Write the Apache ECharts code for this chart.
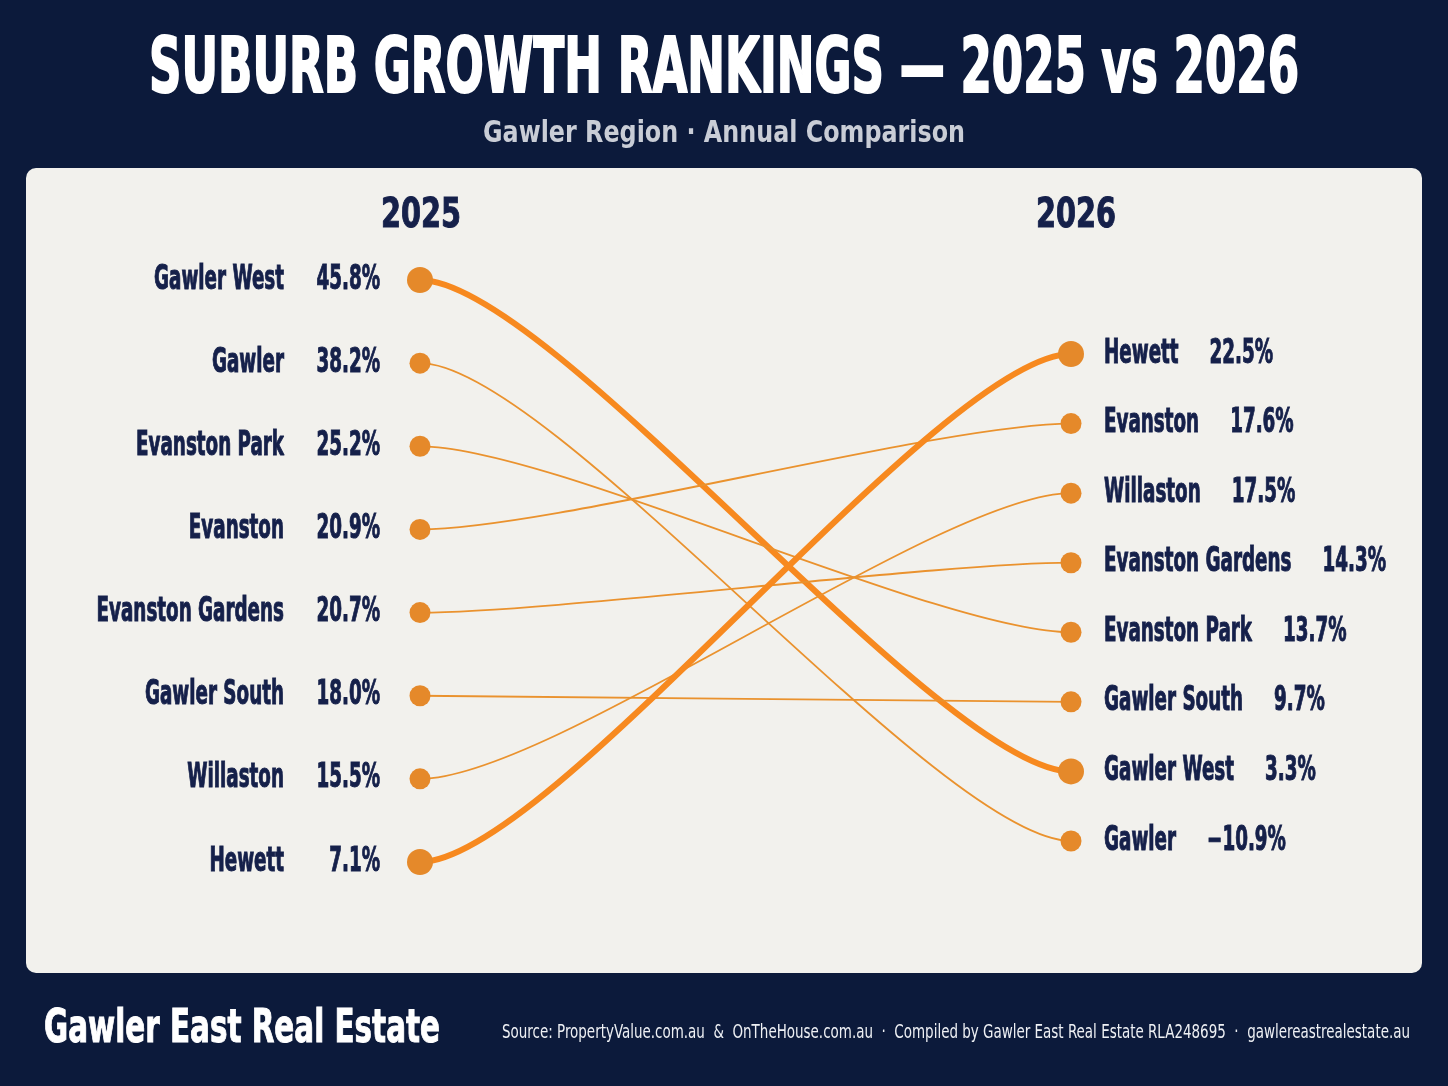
<!DOCTYPE html>
<html>
<head>
<meta charset="utf-8">
<script src="https://cdn.jsdelivr.net/npm/echarts@6/dist/echarts.min.js"></script>
<style>
  html, body { margin: 0; padding: 0; background: #0c1a3b; }
  #chart { width: 1448px; height: 1086px; }
</style>
</head>
<body>
<div id="chart"></div>
<script>
// data
const years = ['2025', '2026'];
const suburbs = ['Gawler West', 'Gawler', 'Evanston Park', 'Evanston', 'Evanston Gardens', 'Gawler South', 'Willaston', 'Hewett'];
const growth2025 = [45.8, 38.2, 25.2, 20.9, 20.7, 18.0, 15.5, 7.1];
const growth2026 = [3.3, -10.9, 13.7, 17.6, 14.3, 9.7, 17.5, 22.5];
const highlighted = ['Gawler West', 'Hewett'];

const FONT = "'DejaVu Sans Condensed', 'DejaVu Sans', sans-serif";
const NAVY = '#15204a';
const DOT = '#e5892a';

// the reference type is very narrow, so squeeze the text horizontally
const measureCtx = document.createElement('canvas').getContext('2d');
function squeeze (text, font, targetWidth) {
	measureCtx.font = font;
	return targetWidth / measureCtx.measureText(text).width;
}
const LABEL_SIZE = 33;
const LS = squeeze('Gawler West', 'bold ' + LABEL_SIZE + 'px ' + FONT, 130);
const YS = squeeze('2025', 'bold 40px ' + FONT, 80);

// rank 1 = highest growth in that year
function ranks (values) {
	const order = values.map((v, i) => i).sort((a, b) => values[b] - values[a]);
	const r = [];
	order.forEach((idx, pos) => { r[idx] = pos + 1; });
	return r;
}
const rank2025 = ranks(growth2025);
const rank2026 = ranks(growth2026);

// the two columns use slightly different vertical spreads
const leftSpan = [0.964, 8.096];
const rightSpan = [-0.107, 8.417];
function rightToLeft (r) {
	return leftSpan[0] + (r - rightSpan[0]) / (rightSpan[1] - rightSpan[0]) * (leftSpan[1] - leftSpan[0]);
}

function fmt (v) {
	return (v < 0 ? '\u2212' + Math.abs(v).toFixed(1) : v.toFixed(1)) + '%';
}
function dotSize (name) {
	return highlighted.indexOf(name) >= 0 ? 26 : 21;
}

const labelToken = { fill: NAVY, stroke: NAVY, lineWidth: 1, fontSize: LABEL_SIZE, fontWeight: 'bold', fontFamily: FONT };

function headText (text, y, size, weight, color, target, left, heavy) {
	const font = weight + ' ' + size + 'px ' + FONT;
	return {
		type: 'text',
		x: left == null ? 724 : left,
		y: y,
		scaleX: squeeze(text, font, target),
		style: {
			text: text,
			font: font,
			fill: color,
			stroke: heavy ? color : null,
			lineWidth: heavy || 0,
			align: left == null ? 'center' : 'left',
			verticalAlign: 'middle'
		}
	};
}
const titleText = 'SUBURB GROWTH RANKINGS \u2014 2025 vs 2026';
const subText = 'Gawler Region \u00b7 Annual Comparison';
const brandText = 'Gawler East Real Estate';
const sourceText = 'Source: PropertyValue.com.au  &  OnTheHouse.com.au  \u00b7  Compiled by Gawler East Real Estate RLA248695  \u00b7  gawlereastrealestate.au';

const myChart = echarts.init(document.getElementById('chart'));
const option = {
	backgroundColor: '#0c1a3b',
	animation: false,
	graphic: [
		{
			type: 'rect',
			z: -10,
			shape: { x: 26, y: 168, width: 1396, height: 805, r: 10 },
			style: { fill: '#f2f1ed' }
		},
		headText(titleText, 72, 76, 'bold', '#ffffff', 1150, null, 2),
		headText(subText, 134, 30, 'bold', '#c9cdd6', 482),
		headText(brandText, 1030, 47, 'bold', '#ffffff', 396, 44, 1),
		headText(sourceText, 1033, 19, 'normal', '#eef0f4', 908, 502)
	],
	grid: { left: 420, right: 377, top: 277, bottom: 216 },
	xAxis: {
		type: 'category',
		data: years,
		boundaryGap: false,
		show: false
	},
	yAxis: [
		{ type: 'value', inverse: true, min: leftSpan[0], max: leftSpan[1], show: false },
		{ type: 'value', inverse: true, min: rightSpan[0], max: rightSpan[1], show: false }
	],
	series: [
		{
			// connecting curves
			type: 'custom',
			xAxisIndex: 0,
			yAxisIndex: 0,
			z: 2,
			data: suburbs.map((name, i) => [rank2025[i], rank2026[i], highlighted.indexOf(name) >= 0 ? 1 : 0]),
			renderItem: function (params, api) {
				const p1 = api.coord([0, api.value(0)]);
				const p2 = api.coord([1, rightToLeft(api.value(1))]);
				const dx = p2[0] - p1[0];
				const thick = api.value(2) === 1;
				return {
					type: 'bezierCurve',
					shape: {
						x1: p1[0], y1: p1[1],
						cpx1: p1[0] + dx * 0.2, cpy1: p1[1],
						cpx2: p2[0] - dx * 0.2, cpy2: p2[1],
						x2: p2[0], y2: p2[1]
					},
					style: {
						fill: null,
						stroke: thick ? '#f7891f' : '#ea922e',
						lineWidth: thick ? 6 : 1.8,
						lineCap: 'round'
					}
				};
			}
		},
		{
			type: 'scatter',
			xAxisIndex: 0,
			yAxisIndex: 0,
			z: 3,
			data: suburbs.map((name, i) => ({ value: [0, rank2025[i]], symbolSize: dotSize(name) })),
			itemStyle: { color: DOT, opacity: 1 }
		},
		{
			type: 'scatter',
			xAxisIndex: 0,
			yAxisIndex: 1,
			z: 3,
			data: suburbs.map((name, i) => ({ value: [1, rank2026[i]], symbolSize: dotSize(name) })),
			itemStyle: { color: DOT, opacity: 1 }
		},
		{
			// column headers above the first row
			type: 'custom',
			xAxisIndex: 0,
			yAxisIndex: 0,
			z: 4,
			data: years.map((y, i) => [i, leftSpan[0]]),
			renderItem: function (params, api) {
				const p = api.coord([api.value(0), api.value(1)]);
				return {
					type: 'text',
					x: p[0] + (params.dataIndex === 1 ? 5 : 1),
					y: p[1] - 60,
					scaleX: YS,
					style: {
						text: years[params.dataIndex],
						font: 'bold 40px ' + FONT,
						fill: NAVY,
						stroke: NAVY,
						lineWidth: 1,
						align: 'center',
						verticalAlign: 'middle'
					}
				};
			}
		},
		{
			// 2025 labels: name and value columns, right aligned
			type: 'custom',
			xAxisIndex: 0,
			yAxisIndex: 0,
			z: 4,
			data: suburbs.map((name, i) => [0, rank2025[i]]),
			renderItem: function (params, api) {
				const p = api.coord([api.value(0), api.value(1)]);
				const i = params.dataIndex;
				return {
					type: 'text',
					x: p[0] - 40,
					y: p[1],
					scaleX: LS,
					style: {
						text: '{n|' + suburbs[i] + '}{v|' + fmt(growth2025[i]) + '}',
						align: 'right',
						verticalAlign: 'middle',
						rich: {
							n: labelToken,
							v: Object.assign({ width: 96 / LS, align: 'right' }, labelToken)
						}
					}
				};
			}
		},
		{
			// 2026 labels
			type: 'custom',
			xAxisIndex: 0,
			yAxisIndex: 1,
			z: 4,
			data: suburbs.map((name, i) => [1, rank2026[i]]),
			renderItem: function (params, api) {
				const p = api.coord([api.value(0), api.value(1)]);
				const i = params.dataIndex;
				return {
					type: 'text',
					x: p[0] + 33,
					y: p[1],
					scaleX: LS,
					style: {
						text: '{n|' + suburbs[i] + '}{v|' + fmt(growth2026[i]) + '}',
						align: 'left',
						verticalAlign: 'middle',
						rich: {
							n: labelToken,
							v: Object.assign({ padding: [0, 0, 0, 31 / LS] }, labelToken)
						}
					}
				};
			}
		}
	]
};
myChart.setOption(option);
</script>
</body>
</html>
